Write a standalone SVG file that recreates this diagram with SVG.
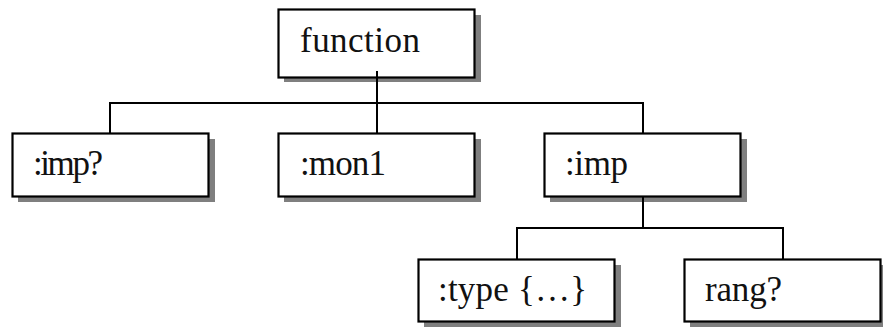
<svg xmlns="http://www.w3.org/2000/svg" width="883" height="327" viewBox="0 0 883 327">
<style>
.shadow{fill:#7f7f7f;stroke:none}
.box{fill:#ffffff;stroke:#000000;stroke-width:2.2}
.conn{fill:none;stroke:#000000;stroke-width:2}
</style>
<rect width="883" height="327" fill="#ffffff"/>
<g id="node-function">
<rect class="shadow" x="284" y="15" width="197" height="67"/>
<rect class="box" x="278.5" y="9.5" width="196" height="68"/>
<text font-family="Liberation Serif, DejaVu Serif, serif" font-size="35" fill="#111111" x="300" y="52" textLength="120">function</text>
</g>
<g id="node-imp-opt">
<rect class="shadow" x="18" y="139" width="197" height="63"/>
<rect class="box" x="12.5" y="133.5" width="196" height="63"/>
<text font-family="Liberation Serif, DejaVu Serif, serif" font-size="35" fill="#111111" x="33" y="175" textLength="70">:imp?</text>
</g>
<g id="node-mon1">
<rect class="shadow" x="284" y="139" width="197" height="63"/>
<rect class="box" x="278.5" y="133.5" width="196" height="63"/>
<text font-family="Liberation Serif, DejaVu Serif, serif" font-size="35" fill="#111111" x="300" y="175" textLength="86">:mon1</text>
</g>
<g id="node-imp">
<rect class="shadow" x="550" y="139" width="197" height="63"/>
<rect class="box" x="544.5" y="133.5" width="196" height="63"/>
<text font-family="Liberation Serif, DejaVu Serif, serif" font-size="35" fill="#111111" x="565" y="175" textLength="63">:imp</text>
</g>
<g id="node-type">
<rect class="shadow" x="424" y="265" width="197" height="62"/>
<rect class="box" x="418.5" y="259.5" width="196" height="62"/>
<text font-family="Liberation Serif, DejaVu Serif, serif" font-size="35" fill="#111111" x="438" y="301" textLength="149">:type {…}</text>
</g>
<g id="node-rang">
<rect class="shadow" x="690" y="265" width="197" height="62"/>
<rect class="box" x="684.5" y="259.5" width="196" height="62"/>
<text font-family="Liberation Serif, DejaVu Serif, serif" font-size="35" fill="#111111" x="705" y="301" textLength="77">rang?</text>
</g>
<g id="connectors">
<path class="conn" d="M377 71 V103"/>
<path class="conn" d="M110 133 V103 H643 V133"/>
<path class="conn" d="M377 103 V133"/>
<path class="conn" d="M643 196 V228"/>
<path class="conn" d="M517 259 V228 H783 V259"/>
</g>
</svg>
